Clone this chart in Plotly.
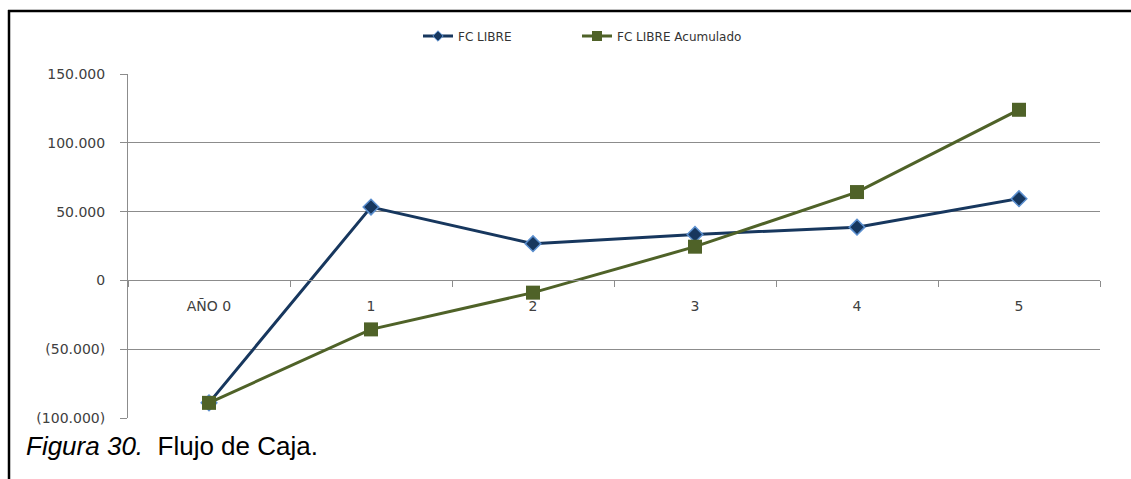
import plotly.graph_objects as go

categories = ["AÑO 0", "1", "2", "3", "4", "5"]
fc_libre = [-89000, 53300, 26700, 33400, 38700, 59400]
fc_acumulado = [-89000, -35600, -8900, 24500, 64200, 124000]
y_tickvals = [-100000, -50000, 0, 50000, 100000, 150000]
y_ticktext = ["(100.000)", "(50.000)", "0", "50.000", "100.000", "150.000"]
series_names = ["FC LIBRE", "FC LIBRE Acumulado"]

W, H = 1131, 479
L, R, T, B = 128, 31, 74, 61
PW, PH = W - L - R, H - T - B

def px(x):
    return (x - L) / PW

def py(y):
    return (H - B - y) / PH

grid = "#8c8c8c"
font_axis = dict(family="DejaVu Sans", size=14, color="#404040")
font_leg = dict(family="DejaVu Sans", size=12, color="#333333")
c_fc, c_fc_edge = "#17375E", "#5B8FCF"
c_ac = "#4F6228"

fig = go.Figure()
fig.add_trace(go.Scatter(
    x=categories, y=fc_libre, name=series_names[0], mode="lines+markers",
    showlegend=False,
    line=dict(color=c_fc, width=3),
    marker=dict(symbol="diamond", size=12, color=c_fc,
                line=dict(color=c_fc_edge, width=1.5)),
))
fig.add_trace(go.Scatter(
    x=categories, y=fc_acumulado, name=series_names[1], mode="lines+markers",
    showlegend=False,
    line=dict(color=c_ac, width=3),
    marker=dict(symbol="square", size=14, color=c_ac,
                line=dict(color=c_ac, width=0)),
))
# legend-only entries (smaller legend symbols, as in the original)
fig.add_trace(go.Scatter(
    x=[None], y=[None], name=series_names[0], mode="lines+markers", legend="legend",
    line=dict(color=c_fc, width=3),
    marker=dict(symbol="diamond", size=8, color=c_fc, line=dict(color=c_fc_edge, width=1)),
))
fig.add_trace(go.Scatter(
    x=[None], y=[None], name=series_names[1], mode="lines+markers", legend="legend2",
    line=dict(color=c_ac, width=3),
    marker=dict(symbol="square", size=10, color=c_ac, line=dict(width=0)),
))

fig.update_layout(
    width=W, height=H,
    margin=dict(l=L, r=R, t=T, b=B),
    paper_bgcolor="white", plot_bgcolor="white",
    showlegend=True,
    legend=dict(orientation="h", x=px(418), xanchor="left", y=py(36), yanchor="middle",
                font=font_leg, bgcolor="rgba(0,0,0,0)"),
    legend2=dict(orientation="h", x=px(577), xanchor="left", y=py(36), yanchor="middle",
                 font=font_leg, bgcolor="rgba(0,0,0,0)"),
    xaxis=dict(type="category", categoryorder="array", categoryarray=categories,
               range=[-0.5, 5.5], anchor="free", position=0.4,
               showline=True, linecolor=grid, linewidth=1,
               ticks="outside", tickson="boundaries", ticklen=6, tickcolor=grid,
               showgrid=False, zeroline=False, tickfont=font_axis,
               ticklabelstandoff=13),
    yaxis=dict(range=[-100000, 150000], tickvals=y_tickvals, ticktext=y_ticktext,
               showgrid=True, gridcolor=grid, gridwidth=1, zeroline=False,
               showline=True, linecolor=grid, linewidth=1,
               ticks="outside", ticklen=7, tickcolor=grid,
               tickfont=font_axis, ticklabelstandoff=12),
    shapes=[
        dict(type="line", xref="paper", yref="paper", x0=px(9), x1=px(9),
             y0=py(10), y1=py(H + 5), line=dict(color="black", width=2.5)),
        dict(type="line", xref="paper", yref="paper", x0=px(8), x1=px(W + 5),
             y0=py(11), y1=py(11), line=dict(color="black", width=2.5)),
    ],
    annotations=[
        dict(text="<i>Figura 30.</i>\u00a0 Flujo de Caja.", xref="paper", yref="paper",
             x=px(24), y=py(446), xanchor="left", yanchor="middle", showarrow=False,
             font=dict(family="Liberation Sans", size=26, color="black")),
    ],
)

fig.write_html("out.html")
